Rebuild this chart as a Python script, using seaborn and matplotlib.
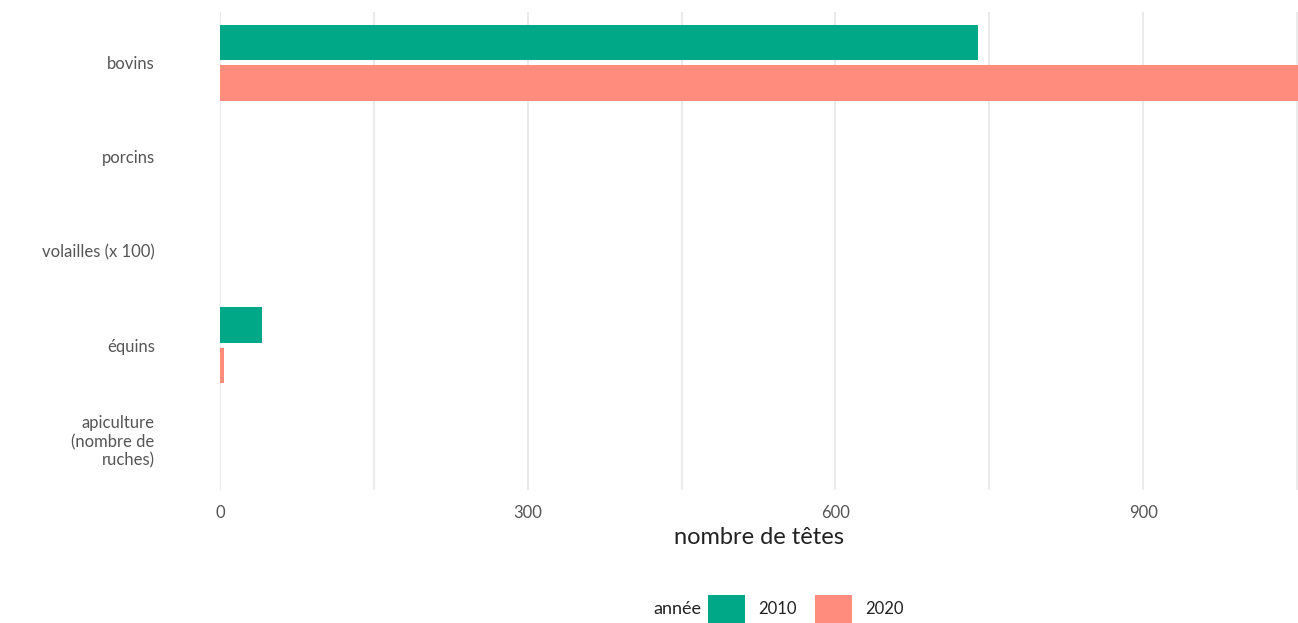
import pandas as pd
import seaborn as sns
import matplotlib.pyplot as plt
from matplotlib.ticker import MultipleLocator

categories = ['bovins', 'porcins', 'volailles (x 100)', 'équins',
              'apiculture\n(nombre de\nruches)']
values_2010 = [739, 0, 0, 41, 0]
values_2020 = [1060, 0, 0, 4, 0]
years = ['2010', '2020']
colors = ['#00a887', '#ff8c7c']

df = pd.DataFrame({
    'categorie': categories * 2,
    'annee': ['2010'] * len(categories) + ['2020'] * len(categories),
    'tetes': values_2010 + values_2020,
})

sns.set_theme(style='white')
plt.rcParams['font.family'] = ['Lato', 'DejaVu Sans']

fig = plt.figure(figsize=(12.98, 6.23), dpi=100)
ax = fig.add_axes([220 / 1298, 1 - 490 / 623, 1 - 220 / 1298, 478 / 623])

sns.barplot(data=df, y='categorie', x='tetes', hue='annee', order=categories,
            hue_order=years, palette=colors, orient='h', width=0.86, gap=0.12,
            saturation=1, edgecolor='none', legend=True, ax=ax)

ax.set_xlim(0, 1051)
ax.set_ylim(4.54, -0.54)
ax.xaxis.set_major_locator(MultipleLocator(300))
ax.xaxis.set_minor_locator(MultipleLocator(150))
ax.grid(axis='x', which='both', color='#ebebeb', linewidth=1.5)
ax.set_axisbelow(True)
for s in ax.spines.values():
    s.set_visible(False)

ax.tick_params(axis='x', which='both', length=0, pad=11, labelsize=12, labelcolor='#555555')
ax.tick_params(axis='y', length=0, pad=47, labelsize=12, labelcolor='#555555')
for lbl in ax.get_yticklabels():
    lbl.set_horizontalalignment('right')
    lbl.set_linespacing(1.2)
ax.set_ylabel('')
ax.set_xlabel('nombre de têtes', fontsize=17, color='#222222', labelpad=4)

handles, labels = ax.get_legend_handles_labels()
ax.legend_.remove()
fig.legend(handles, labels, loc='center left', bbox_to_anchor=(708 / 1298, 1 - 609 / 623),
           ncol=2, frameon=False, borderpad=0, borderaxespad=0, fontsize=12,
           handlelength=2.2, handleheight=2.2, handletextpad=0.8, columnspacing=1.1,
           labelcolor='#222222')
fig.text(653 / 1298, 1 - 609 / 623, 'année', fontsize=13, color='#222222', va='center', ha='left')

fig.savefig('out.png', dpi=100)
